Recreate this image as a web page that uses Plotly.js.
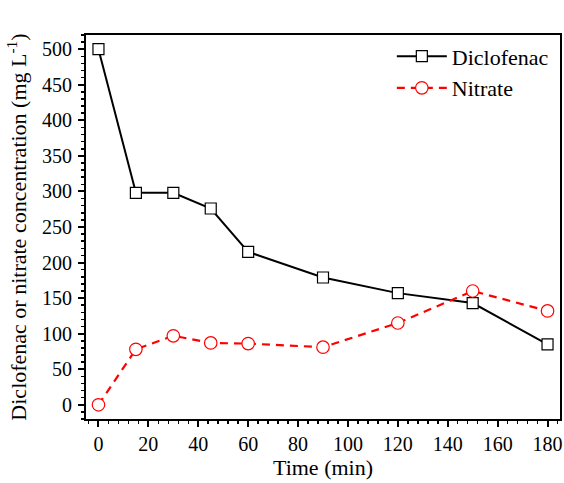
<!DOCTYPE html>
<html>
<head>
<meta charset="utf-8">
<script src="https://cdn.plot.ly/plotly-3.0.1.min.js"></script>
<style>html,body{margin:0;padding:0;background:#fff;}#chart{width:564px;height:483px;}</style>
</head>
<body>
<div id="chart"></div>
<script>
const timeMin = [0, 15, 30, 45, 60, 90, 120, 150, 180];
const diclofenac = [500, 298, 298, 276, 215, 179, 157, 143, 85];
const nitrate = [0, 78, 97, 87, 86, 81, 115, 160, 132];
const seriesNames = ["Diclofenac", "Nitrate"];

const font = "Liberation Serif";
const tickFs = 20;
const titleFs = 22;

const traces = [
  {
    x: timeMin, y: diclofenac, name: seriesNames[0],
    type: "scatter", mode: "lines+markers",
    line: {color: "#000", width: 2},
    marker: {symbol: "square", size: 11, color: "#fff", line: {color: "#000", width: 1.2}}
  },
  {
    x: timeMin, y: nitrate, name: seriesNames[1],
    type: "scatter", mode: "lines+markers",
    line: {color: "#ff0000", width: 2.2, dash: "8px,6px"},
    marker: {symbol: "circle", size: 12.5, color: "#fff", line: {color: "#ff0000", width: 1.2}}
  }
];

const layout = {
  width: 564, height: 483,
  margin: {l: 86, r: 4, t: 35, b: 64},
  paper_bgcolor: "#fff", plot_bgcolor: "#fff",
  font: {family: font, size: titleFs, color: "#000"},
  showlegend: true,
  legend: {x: 0.987, xanchor: "right", y: 0.999, yanchor: "top", bgcolor: "rgba(0,0,0,0)",
           font: {family: font, size: titleFs, color: "#000"}, tracegroupgap: 0, itemwidth: 50},
  xaxis: {
    range: [-5, 185], tickmode: "linear", tick0: 0, dtick: 20,
    ticks: "outside", ticklen: 6, tickwidth: 2, tickcolor: "#000",
    showline: true, linecolor: "#000", linewidth: 2, mirror: true,
    showgrid: false, zeroline: false,
    minor: {dtick: 4, tick0: 0, ticks: "outside", ticklen: 3, tickwidth: 1.5, tickcolor: "#000", showgrid: false},
    tickfont: {family: font, size: tickFs, color: "#000"},
    title: {text: "Time (min)", font: {family: font, size: titleFs, color: "#000"}, standoff: 5}
  },
  yaxis: {
    range: [-20, 520], tickmode: "linear", tick0: 0, dtick: 50,
    ticks: "outside", ticklen: 6, tickwidth: 2, tickcolor: "#000",
    ticklabelstandoff: 2,
    showline: true, linecolor: "#000", linewidth: 2, mirror: true,
    showgrid: false, zeroline: false,
    minor: {dtick: 10, tick0: 0, ticks: "outside", ticklen: 3, tickwidth: 1.5, tickcolor: "#000", showgrid: false},
    tickfont: {family: font, size: tickFs, color: "#000"},
    title: {text: "Diclofenac or nitrate concentration (mg L<sup>-1</sup>)", font: {family: font, size: titleFs, color: "#000"}, standoff: 9}
  }
};

Plotly.newPlot("chart", traces, layout, {displayModeBar: false, staticPlot: true});
</script>
</body>
</html>
